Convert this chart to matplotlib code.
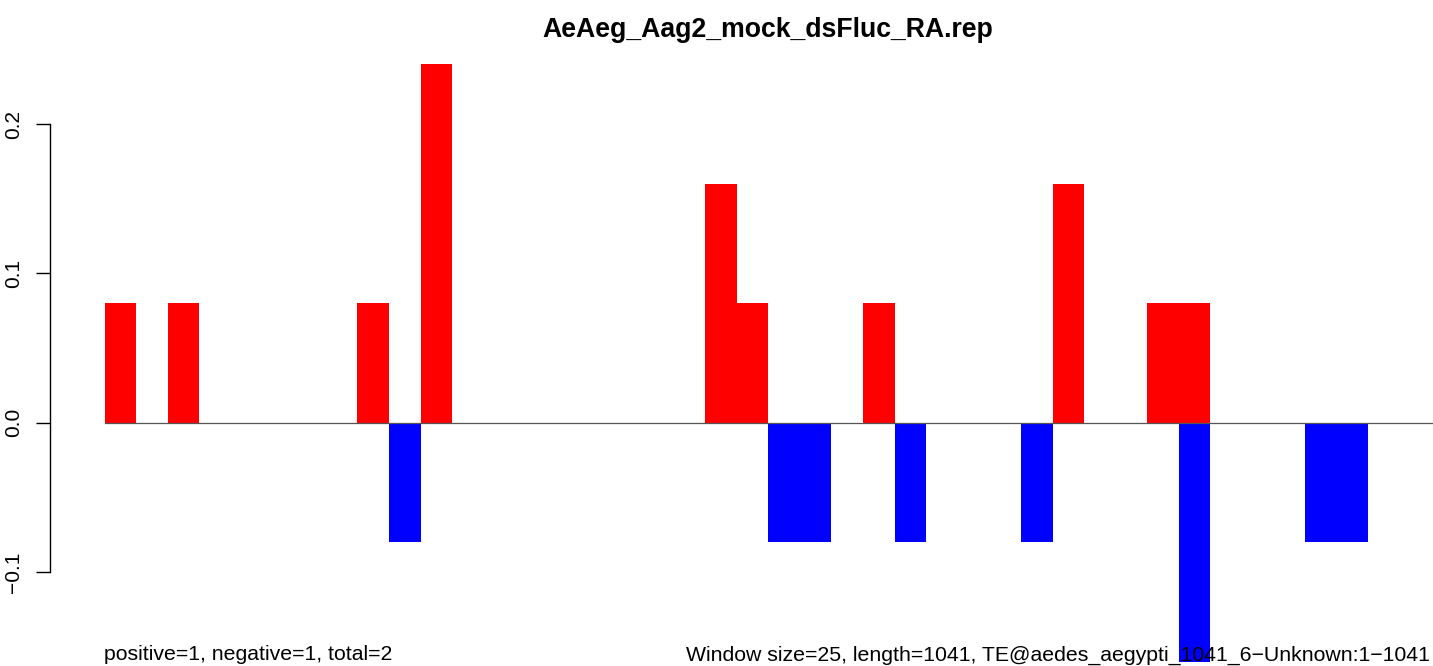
import matplotlib
matplotlib.use("Agg")
import matplotlib.pyplot as plt
import numpy as np

plt.rcParams['font.family'] = ['Liberation Sans', 'DejaVu Sans']

title = "AeAeg_Aag2_mock_dsFluc_RA.rep"
left_note = "positive=1, negative=1, total=2"
right_note = "Window size=25, length=1041, TE@aedes_aegypti_1041_6\u2212Unknown:1\u22121041"

# window index -> value (fraction of window)
pos_bins = [0, 2, 8, 10, 19, 20, 24, 30, 33, 34]
pos_vals = [0.08, 0.08, 0.08, 0.24, 0.16, 0.08, 0.08, 0.16, 0.08, 0.08]
neg_bins = [9, 21, 22, 25, 29, 34, 38, 39]
neg_vals = [-0.08, -0.08, -0.08, -0.08, -0.08, -0.16, -0.08, -0.08]
n_windows = 42
yticks = [-0.1, 0.0, 0.1, 0.2]
ytick_labels = ["\u22120.1", "0.0", "0.1", "0.2"]

W, H = 1433, 666
fig = plt.figure(figsize=(W / 100, H / 100), dpi=100)

# pixel mapping: x_px = 104 + 31.6*i ; y_px = 422.7 - 1493*v
bw = 31.6
y0, ys = 422.7, 1493.0
ax_left_px, ax_right_px = 50, 1433
ax_top_px, ax_bot_px = 40, 666
ax = fig.add_axes([ax_left_px / W, 1 - ax_bot_px / H,
                   (ax_right_px - ax_left_px) / W, (ax_bot_px - ax_top_px) / H])
ax.set_xlim((ax_left_px - 104.5) / bw, (ax_right_px - 104.5) / bw)
ax.set_ylim((y0 - ax_bot_px) / ys, (y0 - ax_top_px) / ys)

ax.bar(pos_bins, pos_vals, width=1, align='edge', color='#ff0000', linewidth=0, zorder=2)
ax.bar(neg_bins, neg_vals, width=1, align='edge', color='#0000ff', linewidth=0, zorder=2)
ax.plot([0, (1432 - 104.5) / bw], [0, 0], color='#555555', linewidth=0.9, zorder=3)

for s in ['top', 'right', 'bottom']:
    ax.spines[s].set_visible(False)
ax.spines['left'].set_bounds(-0.1, 0.2)
ax.spines['left'].set_linewidth(1.0)
ax.set_xticks([])
ax.set_yticks(yticks)
ax.set_yticklabels(ytick_labels, rotation=90, va='center', fontsize=15)
ax.tick_params(axis='y', length=10, width=1.0, pad=9.5)

fig.text(768 / W, 1 - 30 / H, title, ha='center', va='center', fontsize=19.2, fontweight='bold')
fig.text(104 / W, 1 - 655 / H, left_note, ha='left', va='center', fontsize=15.3, zorder=10)
fig.text(1430 / W, 1 - 655 / H, right_note, ha='right', va='center', fontsize=15.3, zorder=10)

fig.savefig("out.png", dpi=100)
